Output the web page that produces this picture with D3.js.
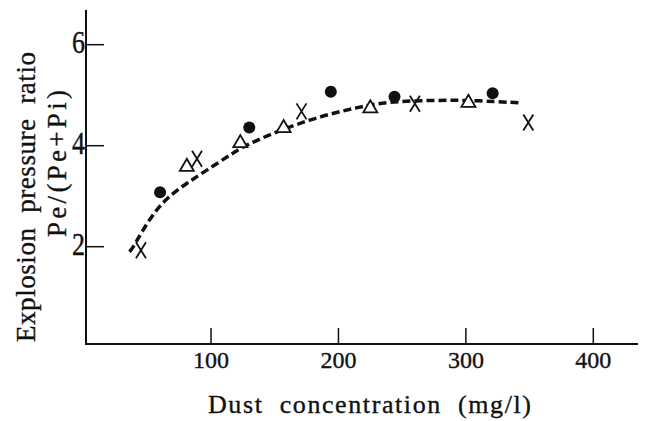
<!DOCTYPE html>
<html lang="en">
<head>
  <meta charset="utf-8">
  <title>Explosion pressure ratio vs dust concentration</title>
  <style>
    body { margin:0; background:#fff; }
    svg  { display:block; }
    text { font-family:"Liberation Serif", "Times New Roman", serif; fill:#111; stroke:#111; stroke-width:0.35px; white-space:pre; }
  </style>
</head>
<body>
<script src="https://cdn.jsdelivr.net/npm/d3@7"></script>
<script>

// --- data ---
const xTicks = [100, 200, 300, 400];
const yTicks = [2, 4, 6];

const circleX = [60, 130, 194, 244, 321];
const circleY = [3.08, 4.36, 5.07, 4.97, 5.04];

const triangleX = [81, 123, 157, 225, 302];
const triangleY = [3.58, 4.05, 4.35, 4.74, 4.85];

const crossX = [45, 89, 171, 260, 349];
const crossY = [1.93, 3.74, 4.68, 4.83, 4.46];

// dashed fitted curve
const curveX = [36, 38, 46, 56, 66, 81, 97, 115, 131, 178, 217, 238, 274, 305, 341, 343];
const curveY = [1.90, 1.95, 2.31, 2.70, 2.98, 3.26, 3.52, 3.82, 4.07, 4.54, 4.77, 4.87, 4.90, 4.90, 4.85, 4.85];

const width = 648, height = 421;
const axisX = 86, axisY = 344;

const x = d3.scaleLinear().domain([0, 400]).range([83.6, 593.3]);
const y = d3.scaleLinear().domain([0, 6]).range([347.7, 44.7]);

const svg = d3.select("body").append("svg")
  .attr("width", width)
  .attr("height", height);

// axes lines
svg.append("line")
  .attr("x1", axisX).attr("x2", axisX)
  .attr("y1", 10).attr("y2", axisY + 1)
  .attr("stroke", "#111").attr("stroke-width", 2);

svg.append("line")
  .attr("x1", axisX - 1).attr("x2", 638)
  .attr("y1", axisY).attr("y2", axisY)
  .attr("stroke", "#111").attr("stroke-width", 2);

// y ticks (pointing inward)
svg.append("g")
  .selectAll("line")
  .data(yTicks)
  .join("line")
    .attr("x1", axisX).attr("x2", axisX + 18)
    .attr("y1", d => y(d)).attr("y2", d => y(d))
    .attr("stroke", "#111").attr("stroke-width", 1.5);

svg.append("g")
  .selectAll("text")
  .data(yTicks)
  .join("text")
    .attr("transform", d => `translate(85,${y(d) + 8}) scale(1,1.2)`)
    .attr("text-anchor", "end")
    .style("font-size", "26px")
    .text(d => d);

// x ticks
svg.append("g")
  .selectAll("line")
  .data(xTicks)
  .join("line")
    .attr("x1", d => x(d)).attr("x2", d => x(d))
    .attr("y1", axisY).attr("y2", axisY - 16)
    .attr("stroke", "#111").attr("stroke-width", 1.5);

svg.append("g")
  .selectAll("text")
  .data(xTicks)
  .join("text")
    .attr("x", d => x(d))
    .attr("y", 368)
    .attr("text-anchor", "middle")
    .style("font-size", "24px")
    .text(d => d);

// axis titles
svg.append("text")
  .attr("x", 208)
  .attr("y", 413)
  .attr("textLength", 323)
  .attr("lengthAdjust", "spacing")
  .style("font-size", "26px")
  .text("Dust  concentration  (mg/l)");

svg.append("text")
  .attr("transform", "translate(35,342) rotate(-90)")
  .attr("textLength", 290)
  .attr("lengthAdjust", "spacing")
  .style("font-size", "27px")
  .text("Explosion  pressure  ratio");

svg.append("text")
  .attr("transform", "translate(66,237) rotate(-90)")
  .attr("textLength", 147)
  .attr("lengthAdjust", "spacing")
  .style("font-size", "27px")
  .text("Pe/(Pe+Pi)");

// dashed curve
const line = d3.line()
  .x(i => x(curveX[i]))
  .y(i => y(curveY[i]))
  .curve(d3.curveBasis);

svg.append("path")
  .attr("d", line(d3.range(curveX.length)))
  .attr("fill", "none")
  .attr("stroke", "#111")
  .attr("stroke-width", 3.5)
  .attr("stroke-dasharray", "8,4");

// filled circles
svg.append("g")
  .selectAll("circle")
  .data(d3.range(circleX.length))
  .join("circle")
    .attr("cx", i => x(circleX[i]))
    .attr("cy", i => y(circleY[i]))
    .attr("r", 6)
    .attr("fill", "#111");

// open triangles
svg.append("g")
  .selectAll("path")
  .data(d3.range(triangleX.length))
  .join("path")
    .attr("transform", i => `translate(${x(triangleX[i])},${y(triangleY[i])})`)
    .attr("d", d3.symbol(d3.symbolTriangle, 85))
    .attr("fill", "#fff")
    .attr("stroke", "#111")
    .attr("stroke-width", 1.8);

// crosses
svg.append("g")
  .selectAll("path")
  .data(d3.range(crossX.length))
  .join("path")
    .attr("transform", i => `translate(${x(crossX[i])},${y(crossY[i])})`)
    .attr("d", "M-5,-8L5,8M5,-8L-5,8")
    .attr("fill", "none")
    .attr("stroke", "#111")
    .attr("stroke-width", 1.8);

</script>
</body>
</html>
